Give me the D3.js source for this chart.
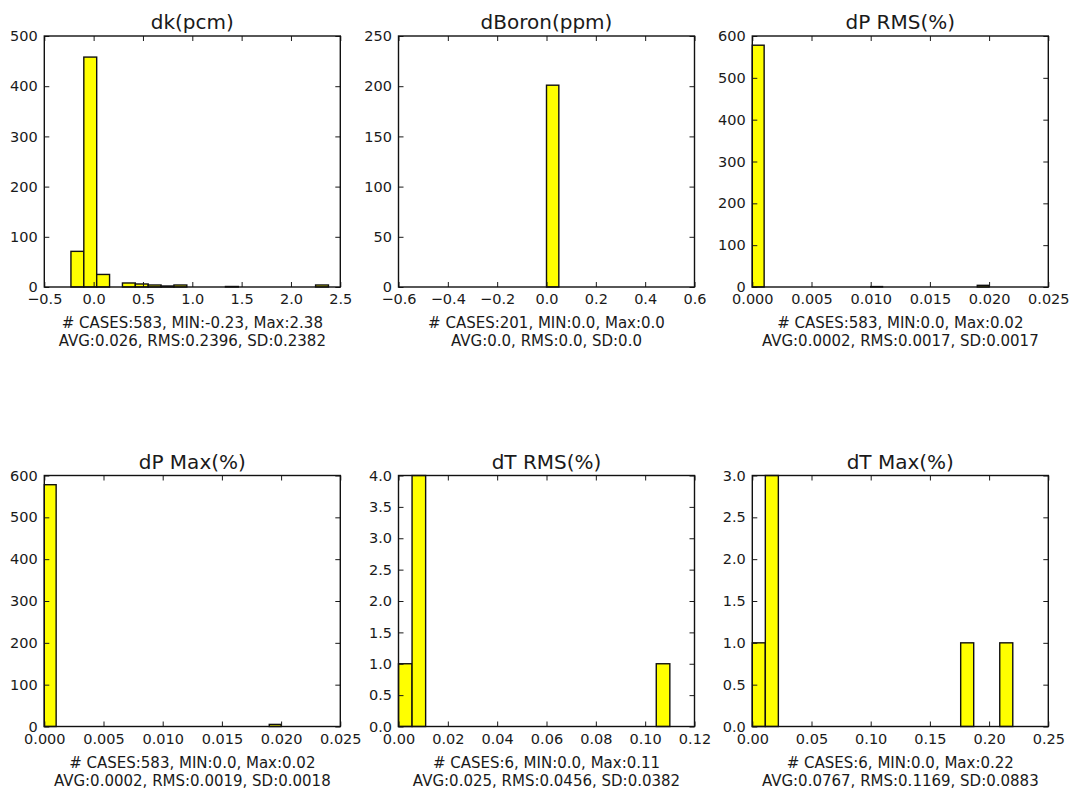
<!DOCTYPE html>
<html>
<head>
<meta charset="utf-8">
<script src="https://cdn.jsdelivr.net/npm/d3@7"></script>
<style>
	body { margin: 0; background: #fff; }
	svg text { font-family: 'DejaVu Sans', sans-serif; fill: #1a1a1a; }
	.tick line { stroke: #1a1a1a; }
</style>
</head>
<body>
<svg id="chart" width="1071" height="789"></svg>
<script>
'use strict';

// panel titles, row by row
var titles = ['dk(pcm)', 'dBoron(ppm)', 'dP RMS(%)', 'dP Max(%)', 'dT RMS(%)', 'dT Max(%)'];

// histogram counts, 20 bins per panel
var dkCounts    = [71, 458, 25, 0, 8, 6, 4, 2, 4, 0, 0, 0, 1, 0, 0, 0, 0, 0, 0, 4];
var boronCounts = [0, 0, 0, 0, 0, 0, 0, 0, 0, 0, 201, 0, 0, 0, 0, 0, 0, 0, 0, 0];
var dpRmsCounts = [578, 0, 0, 0, 0, 0, 0, 0, 0, 0, 1, 0, 0, 0, 0, 0, 0, 0, 0, 4];
var dpMaxCounts = [578, 0, 0, 0, 0, 0, 0, 0, 0, 0, 0, 0, 0, 0, 0, 0, 0, 0, 0, 5];
var dtRmsCounts = [1, 4, 0, 0, 0, 0, 0, 0, 0, 0, 0, 0, 0, 0, 0, 0, 0, 0, 0, 1];
var dtMaxCounts = [1, 3, 0, 0, 0, 0, 0, 0, 0, 0, 0, 0, 0, 0, 0, 0, 1, 0, 0, 1];

// histogram range (first and last bin edge)
var binRanges = [[-0.23, 2.38], [-0.5, 0.5], [0, 0.02], [0, 0.02], [0, 0.11], [0, 0.22]];

// axis domains and tick labels
var xDomains = [[-0.5, 2.5], [-0.6, 0.6], [0, 0.025], [0, 0.025], [0, 0.12], [0, 0.25]];
var yDomains = [[0, 500], [0, 250], [0, 600], [0, 600], [0, 4], [0, 3]];
var xTickCounts = [6, 6, 5, 5, 6, 5];
var yTickCounts = [5, 5, 6, 6, 8, 6];
var xTickFormats = ['.1f', '.1f', '.3f', '.3f', '.2f', '.2f'];
var yTickFormats = ['d', 'd', 'd', 'd', '.1f', '.1f'];

// summary lines under each panel
var caseLines = [
	'# CASES:583, MIN:-0.23, Max:2.38',
	'# CASES:201, MIN:0.0, Max:0.0',
	'# CASES:583, MIN:0.0, Max:0.02',
	'# CASES:583, MIN:0.0, Max:0.02',
	'# CASES:6, MIN:0.0, Max:0.11',
	'# CASES:6, MIN:0.0, Max:0.22'
];
var statLines = [
	'AVG:0.026, RMS:0.2396, SD:0.2382',
	'AVG:0.0, RMS:0.0, SD:0.0',
	'AVG:0.0002, RMS:0.0017, SD:0.0017',
	'AVG:0.0002, RMS:0.0019, SD:0.0018',
	'AVG:0.025, RMS:0.0456, SD:0.0382',
	'AVG:0.0767, RMS:0.1169, SD:0.0883'
];

var counts = [dkCounts, boronCounts, dpRmsCounts, dpMaxCounts, dtRmsCounts, dtMaxCounts];

var layout = {
	left: [44.3, 398.5, 752.3],
	top: [36, 475.5],
	width: 296,
	height: 251,
	tick: 5
};

/**
 * Draw one histogram panel.
 * @param {D3Selection} svg
 * @param {number}      i    Panel index.
 */
function drawPanel(svg, i) {
	var w = layout.width, h = layout.height;
	var g = svg.append('g')
		.attr('transform', 'translate(' + layout.left[i % 3] + ',' + layout.top[Math.floor(i / 3)] + ')');

	var x = d3.scaleLinear().domain(xDomains[i]).range([0, w]);
	var y = d3.scaleLinear().domain(yDomains[i]).range([h, 0]);

	var lo = binRanges[i][0], hi = binRanges[i][1];
	var n = counts[i].length;
	var bins = counts[i].map(function(c, k) {
		return { x0: lo + (hi - lo) * k / n, x1: lo + (hi - lo) * (k + 1) / n, count: c };
	});

	g.selectAll('rect.bar')
		.data(bins.filter(function(d) { return d.count > 0; }))
		.enter()
		.append('rect')
		.attr('class', 'bar')
		.attr('x', function(d) { return x(d.x0); })
		.attr('y', function(d) { return y(d.count); })
		.attr('width', function(d) { return x(d.x1) - x(d.x0); })
		.attr('height', function(d) { return h - y(d.count); })
		.attr('fill', '#ffff00')
		.attr('stroke', '#111')
		.attr('stroke-width', 1.4);

	var t = layout.tick;
	var xf = d3.format(xTickFormats[i]);
	var yf = d3.format(yTickFormats[i]);
	var xTicks = x.ticks(xTickCounts[i]);
	var yTicks = y.ticks(yTickCounts[i]);

	var bottom = g.append('g')
		.attr('transform', 'translate(0,' + h + ')')
		.call(d3.axisBottom(x).tickValues(xTicks).tickFormat(xf).tickSizeInner(-t).tickSizeOuter(0).tickPadding(7));
	g.append('g')
		.call(d3.axisLeft(y).tickValues(yTicks).tickFormat(yf).tickSizeInner(-t).tickSizeOuter(0).tickPadding(6.5));
	g.append('g')
		.call(d3.axisTop(x).tickValues(xTicks).tickFormat('').tickSizeInner(-t).tickSizeOuter(0));
	g.append('g')
		.attr('transform', 'translate(' + w + ',0)')
		.call(d3.axisRight(y).tickValues(yTicks).tickFormat('').tickSizeInner(-t).tickSizeOuter(0));

	g.selectAll('.domain').remove();
	g.selectAll('.tick text')
		.attr('font-size', 14.5)
		.attr('font-family', null)
		.attr('fill', null);
	bottom.selectAll('.tick text').attr('dy', '0.71em');

	// frame
	g.append('rect')
		.attr('width', w)
		.attr('height', h)
		.attr('fill', 'none')
		.attr('stroke', '#111')
		.attr('stroke-width', 1.4);

	g.append('text')
		.attr('x', w / 2)
		.attr('y', -7)
		.attr('text-anchor', 'middle')
		.attr('font-size', 20)
		.text(titles[i]);

	g.append('text')
		.attr('x', w / 2)
		.attr('y', h + 41)
		.attr('text-anchor', 'middle')
		.attr('font-size', 15)
		.text(caseLines[i]);

	g.append('text')
		.attr('x', w / 2)
		.attr('y', h + 59)
		.attr('text-anchor', 'middle')
		.attr('font-size', 15)
		.text(statLines[i]);
}

var svg = d3.select('#chart');
titles.forEach(function(d, i) { drawPanel(svg, i); });
</script>
</body>
</html>
